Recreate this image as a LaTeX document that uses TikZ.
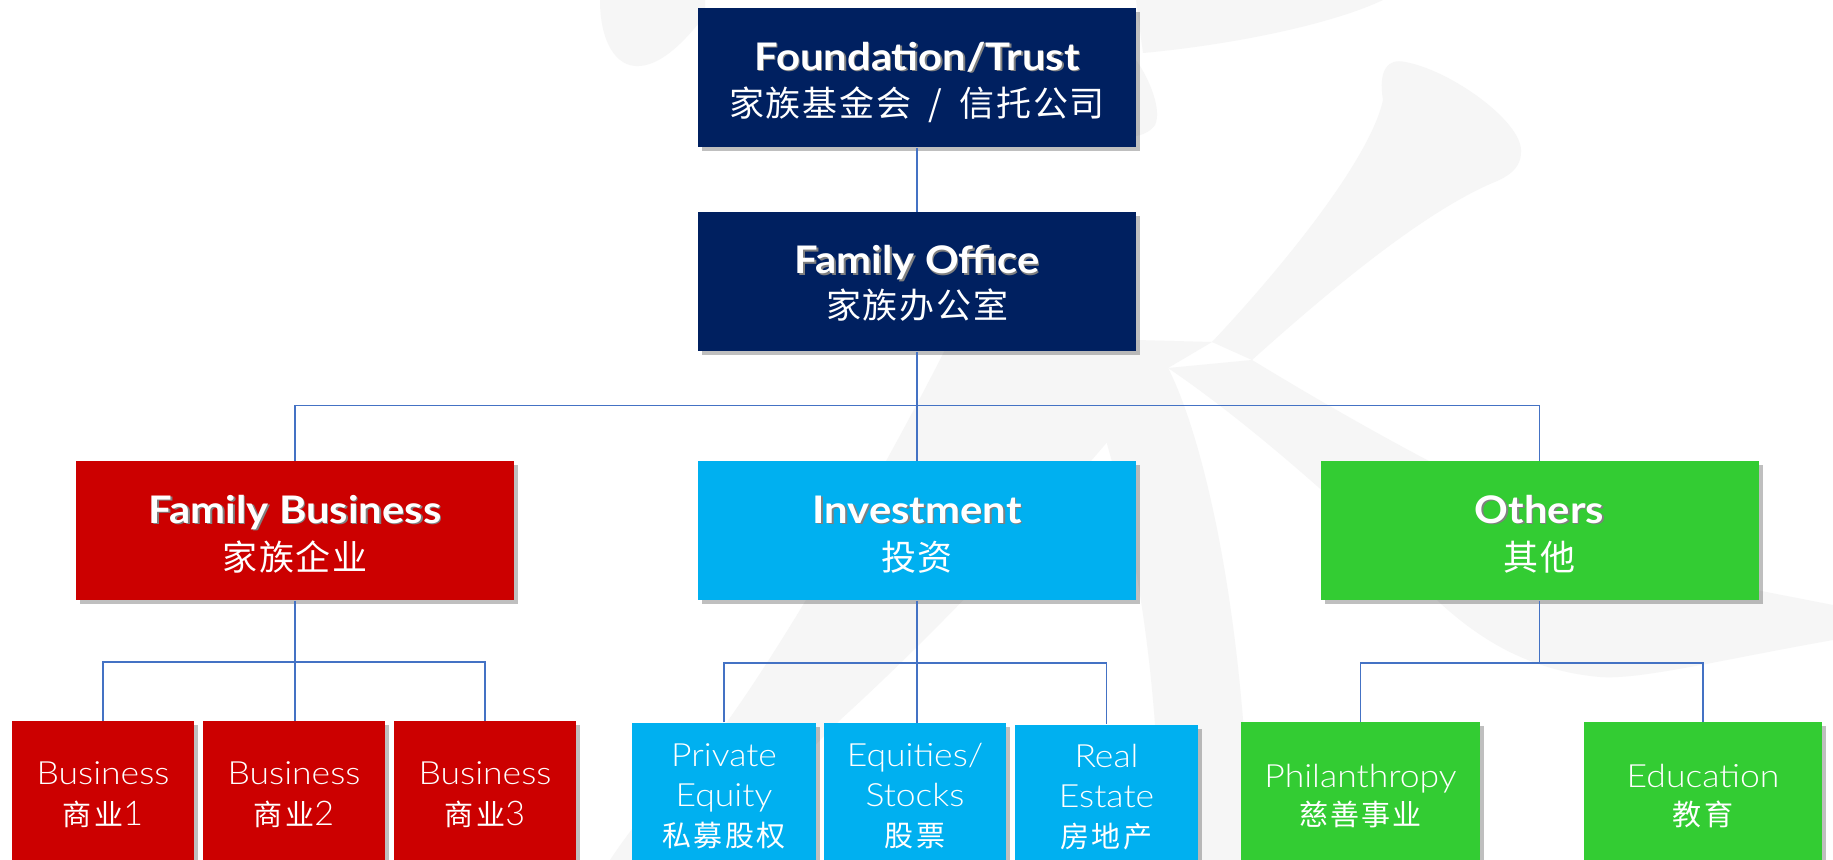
\documentclass[tikz,border=0pt]{standalone}
\usepackage{graphicx}
\usepackage{fontspec}
\setmainfont{Lato}
\newfontfamily\lightf{Lato}[UprightFont=* Light]
\newfontfamily\cjkT{Noto Sans CJK SC}[LetterSpace=5]
\newfontfamily\cjkS{Noto Sans CJK SC}[LetterSpace=8]
\usetikzlibrary{shadows}
\definecolor{navy}{HTML}{002060}
\definecolor{fred}{HTML}{CC0000}
\definecolor{fcyan}{HTML}{00B0F0}
\definecolor{fgreen}{HTML}{33CC33}
\definecolor{conn}{HTML}{4472C4}
\definecolor{wm}{HTML}{F6F6F6}
\newcommand\shtxt[1]{\leavevmode\rlap{\kern0.7pt\raisebox{-0.7pt}{\color{black!50}#1}}#1}
\newcommand\ttl[1]{\scalebox{1.1}[1]{\shtxt{#1}}}
\newcommand\lt[1]{\scalebox{1.11}[1]{#1}}
\tikzset{
  basebox/.style={rectangle, inner sep=0pt, draw=none,
    drop shadow={shadow xshift=2pt, shadow yshift=-2pt, fill=black, opacity=0.25}},
  topbox/.style={basebox, minimum width=219pt, minimum height=69.5pt},
  childbox/.style={basebox, minimum height=73pt, anchor=north},
  ttxt/.style={anchor=base, text=white, inner sep=0pt, font=\bfseries\fontsize{19}{23}\selectfont},
  ctxt/.style={anchor=base, text=white, inner sep=0pt, font=\cjkT\fontsize{17.5}{22}\selectfont},
  ltxt/.style={anchor=base, text=white, inner sep=0pt, font=\lightf\fontsize{16}{20}\selectfont},
  cstxt/.style={anchor=base, text=white, inner sep=0pt, font=\cjkS\fontsize{14.5}{20}\selectfont},
  link/.style={draw=conn, line width=0.65pt},
  wmark/.style={fill=wm, draw=none}
}
\begin{document}
\begin{tikzpicture}[x=0.5pt, y=-0.5pt]
\useasboundingbox (0,0) rectangle (1833,860);
\clip (0,0) rectangle (1833,860);
\fill[white] (0,0) rectangle (1833,860);
% watermark
\fill[wmark] (600,0) .. controls (600,40) and (615,68) .. (640,66) .. controls (665,64) and (690,35) .. (705,15) -- (705,0) -- cycle;
\fill[wmark] (1136,0) -- (1383,0) .. controls (1330,25) and (1230,45) .. (1143,53) -- cycle;
\fill[wmark] (1136,60) .. controls (1150,80) and (1162,110) .. (1155,125) .. controls (1150,132) and (1142,135) .. (1136,136) -- cycle;
\fill[wmark] (1383,100) .. controls (1378,70) and (1388,58) .. (1405,62) .. controls (1450,70) and (1520,120) .. (1521,150) .. controls (1522,170) and (1505,178) .. (1490,184) .. controls (1420,215) and (1330,290) .. (1252,360) -- (1212,342) .. controls (1280,270) and (1370,160) .. (1383,100) -- cycle;
\fill[wmark] (1168,368) -- (1252,360) .. controls (1400,450) and (1600,560) .. (1756,590) -- (1833,605) -- (1833,640) .. controls (1720,660) and (1640,680) .. (1600,677) .. controls (1520,670) and (1470,630) .. (1440,603) .. controls (1380,540) and (1260,430) .. (1168,368) -- cycle;
\fill[wmark] (950,340) -- (1136,340) -- (1212,342) -- (1168,368) .. controls (1080,480) and (950,620) .. (840,720) .. controls (790,770) and (740,820) .. (700,860) -- (610,860) .. controls (650,800) and (700,750) .. (727,722) .. controls (800,620) and (900,440) .. (950,340) -- cycle;
\fill[wmark] (1168,368) .. controls (1200,430) and (1245,600) .. (1250,860) -- (1160,860) .. controls (1160,700) and (1140,550) .. (1100,420) -- cycle;
% boxes
\node[topbox, fill=navy] (fnd) at (917,78) {};
\node[topbox, fill=navy] (fo) at (917,282) {};
\node[topbox, fill=fred] (fb) at (295,531) {};
\node[topbox, fill=fcyan] (inv) at (917,531) {};
\node[topbox, fill=fgreen] (oth) at (1539.5,531) {};
\node[childbox, fill=fred, minimum width=91pt] (b1) at (103,721) {};
\node[childbox, fill=fred, minimum width=91pt] (b2) at (294,721) {};
\node[childbox, fill=fred, minimum width=91pt] (b3) at (485,721) {};
\node[childbox, fill=fcyan, minimum width=92pt] (i1) at (724,722.5) {};
\node[childbox, fill=fcyan, minimum width=91pt] (i2) at (915,723) {};
\node[childbox, fill=fcyan, minimum width=91.5pt] (i3) at (1106.5,724.5) {};
\node[childbox, fill=fgreen, minimum width=119.5pt] (o1) at (1360.5,722) {};
\node[childbox, fill=fgreen, minimum width=119pt] (o2) at (1703,722) {};
% texts
\node[ttxt] (fndA) at (917,70.5) {\ttl{Foundation/Trust}};
\node[ctxt] (fndB) at (917,117) {家族基金会\hspace{0.5em}/\hspace{0.5em}信托公司};
\node[ttxt] (foA) at (917,274) {\ttl{Family Office}};
\node[ctxt] (foB) at (917,319) {家族办公室};
\node[ttxt] (fbA) at (295,523.5) {\ttl{Family Business}};
\node[ctxt] (fbB) at (295,571) {家族企业};
\node[ttxt] (invA) at (917,523.5) {\ttl{Investment}};
\node[ctxt] (invB) at (917,571) {投资};
\node[ttxt] (othA) at (1539.5,523.5) {\ttl{Others}};
\node[ctxt] (othB) at (1539.5,571) {其他};
\node[ltxt] (b1A) at (103,785) {\lt{Business}};
\node[cstxt] (b1B) at (103,826) {商业{\lightf\fontsize{17}{20}\selectfont 1}};
\node[ltxt] (b2A) at (294,785) {\lt{Business}};
\node[cstxt] (b2B) at (294,826) {商业{\lightf\fontsize{17}{20}\selectfont 2}};
\node[ltxt] (b3A) at (485,785) {\lt{Business}};
\node[cstxt] (b3B) at (485,826) {商业{\lightf\fontsize{17}{20}\selectfont 3}};
\node[ltxt] (i1A) at (724,767) {\lt{Private}};
\node[ltxt] (i1B) at (724,807) {\lt{Equity}};
\node[cstxt] (i1C) at (724,846.5) {私募股权};
\node[ltxt] (i2A) at (915,767) {\lt{Equities/}};
\node[ltxt] (i2B) at (915,807) {\lt{Stocks}};
\node[cstxt] (i2C) at (915,846.5) {股票};
\node[ltxt] (i3A) at (1106.5,768) {\lt{Real}};
\node[ltxt] (i3B) at (1106.5,808) {\lt{Estate}};
\node[cstxt] (i3C) at (1106.5,847.5) {房地产};
\node[ltxt] (o1A) at (1360.5,788) {\lt{Philanthropy}};
\node[cstxt] (o1B) at (1360.5,826) {慈善事业};
\node[ltxt] (o2A) at (1703,788) {\lt{Education}};
\node[cstxt] (o2B) at (1703,826) {教育};
% connectors
\coordinate (jt) at (917,405.6);
\coordinate (jb) at (294,662);
\coordinate (ji) at (916,663);
\coordinate (jo) at (1539.5,663);
\draw[link] (fnd.south) -- (fo.north);
\draw[link] (fo.south) -- (inv.north);
\draw[link] (fb.north) |- (jt) -| (oth.north);
\draw[link] (fb.south) -- (fb.south |- b2.north);
\draw[link] (b1.north) |- (jb) -| (b3.north);
\draw[link] (inv.south) -- (inv.south |- i2.north);
\draw[link] (i1.north) |- (ji) -| (i3.north);
\draw[link] (oth.south) -- (jo);
\draw[link] (o1.north) |- (jo) -| (o2.north);
\end{tikzpicture}
\end{document}
